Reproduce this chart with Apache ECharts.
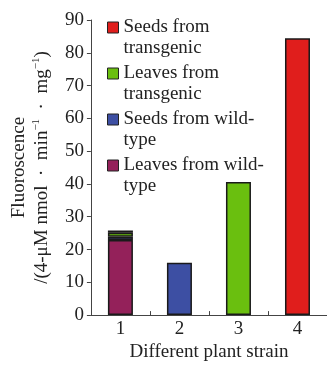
<!DOCTYPE html>
<html>
<head>
<meta charset="utf-8">
<style>
  html, body { margin: 0; padding: 0; background: #ffffff; }
  #chart { width: 327px; height: 367px; }
</style>
<script src="https://cdn.jsdelivr.net/npm/echarts@6/dist/echarts.min.js"></script>
</head>
<body>
<div id="chart"></div>
<script>
// ---- data ----
const categories = ['1', '2', '3', '4'];
const seriesNames = ['Leaves from wild-type', 'Seeds from wild-type', 'Leaves from transgenic', 'Seeds from transgenic'];
const legendLabels = {
  'Seeds from transgenic': 'Seeds from\ntransgenic',
  'Leaves from transgenic': 'Leaves from\ntransgenic',
  'Seeds from wild-type': 'Seeds from wild-\ntype',
  'Leaves from wild-type': 'Leaves from wild-\ntype'
};
const leavesWildType = [22.9, null, null, null];
const seedsWildType = [1.0, 16.0, null, null];
const leavesTransgenic = [1.2, null, 40.6, null];
const seedsTransgenic = [0.7, null, null, 84.4];
const yTicks = { min: 0, max: 90, interval: 10 };

const seriesValues = [leavesWildType, seedsWildType, leavesTransgenic, seedsTransgenic];
const seriesColors = ['#94215a', '#3d4fa3', '#6abf0f', '#e01e1c'];
const FONT = '"Liberation Serif", "Times New Roman", serif';

const chart = echarts.init(document.getElementById('chart'), null, { renderer: 'canvas' });

const option = {
  backgroundColor: '#ffffff',
  animation: false,
  grid: { left: 83, right: -2, top: 20, bottom: 51, containLabel: false },
  legend: {
    orient: 'vertical',
    left: 107,
    top: -4,
    padding: 0,
    itemWidth: 11,
    itemHeight: 11,
    itemGap: -17,
    icon: 'rect',
    selectedMode: false,
    data: ['Seeds from transgenic', 'Leaves from transgenic', 'Seeds from wild-type', 'Leaves from wild-type'],
    formatter: function (name) { return '\n' + legendLabels[name]; },
    itemStyle: { borderColor: '#222222', borderWidth: 1 },
    textStyle: { fontFamily: FONT, fontSize: 19, lineHeight: 21, color: '#222222' }
  },
  xAxis: {
    type: 'category',
    data: categories,
    name: 'Different plant strain',
    nameLocation: 'middle',
    nameGap: 18,
    nameTextStyle: { fontFamily: FONT, fontSize: 19, color: '#222222' },
    axisLine: { show: true, lineStyle: { color: '#444444', width: 1 } },
    axisTick: { show: true, inside: true, length: 4, alignWithLabel: false, lineStyle: { color: '#444444' } },
    axisLabel: { fontFamily: FONT, fontSize: 19, color: '#222222', margin: 4 },
    splitLine: { show: false }
  },
  yAxis: {
    type: 'value',
    min: yTicks.min,
    max: yTicks.max,
    interval: yTicks.interval,
    name: 'Fluoroscence\n/(4-μM nmol\u2002·\u2002min{sup|−1}\u2002·\u2002mg{sup|−1})',
    nameLocation: 'middle',
    nameGap: 33,
    nameTextStyle: {
      fontFamily: FONT, fontSize: 19, lineHeight: 23, color: '#222222',
      rich: {
        sup: { fontFamily: FONT, fontSize: 11, lineHeight: 12, verticalAlign: 'top', color: '#222222' }
      }
    },
    axisLine: { show: true, lineStyle: { color: '#444444', width: 1 } },
    axisTick: { show: true, inside: false, length: 4, lineStyle: { color: '#444444' } },
    axisLabel: { fontFamily: FONT, fontSize: 19, color: '#222222', margin: 7 },
    splitLine: { show: false }
  },
  series: seriesNames.map(function (name, i) {
    return {
      name: name,
      type: 'bar',
      stack: 'total',
      barWidth: 25,
      data: seriesValues[i],
      itemStyle: { color: seriesColors[i], borderColor: '#1a1a1a', borderWidth: 1.5 }
    };
  })
};

chart.setOption(option);
</script>
</body>
</html>
